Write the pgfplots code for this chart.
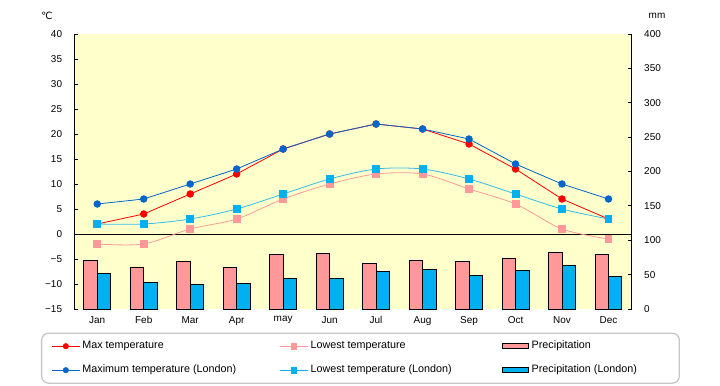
\documentclass[border=0pt]{standalone}
\usepackage{fontspec}
\setmainfont{Liberation Sans}
\newfontfamily\dejavu{DejaVu Sans}
\usepackage{pgfplots}
\pgfplotsset{compat=1.18}
\definecolor{maxred}{HTML}{FF0000}
\definecolor{maxblue}{HTML}{0066CC}
\definecolor{lowpink}{HTML}{FF9999}
\definecolor{lowblue}{HTML}{00B0F0}
\definecolor{lowblueline}{HTML}{33BBEE}
\definecolor{bg}{HTML}{FFFFCC}
\newcommand{\lbl}[2]{\makebox[#1][l]{\hspace{2.4bp}#2}}
\begin{document}
\begin{tikzpicture}[x=1bp,y=1bp]
\useasboundingbox (0,0) rectangle (720,385);
% precipitation axis (right)
\begin{axis}[
  scale only axis, width=557.7bp, height=275bp,
  at={(74bp,76bp)}, anchor=south west,
  xmin=-0.5, xmax=11.5, ymin=0, ymax=400,
  axis x line=none, axis y line*=right,
  axis background/.style={fill=bg},
  ytick={0,50,...,400},
  tick align=inside, major tick length=4bp,
  y axis line style={line width=0.8bp, black},
  ytick style={line width=0.8bp, black},
  yticklabel style={font=\fontsize{10}{12}\selectfont, xshift=9bp},
  /pgf/number format/assume math mode=true,
]
\addplot[ybar, bar width=13.4bp, bar shift=-6.7bp, fill=lowpink, draw=black, line width=0.8bp]
  coordinates {(0,71) (1,61) (2,69) (3,61) (4,80) (5,81) (6,66) (7,71) (8,69) (9,74) (10,82) (11,80)};
\addplot[ybar, bar width=13.4bp, bar shift=6.7bp, fill=lowblue, draw=black, line width=0.8bp]
  coordinates {(0,52) (1,39) (2,36) (3,37) (4,45) (5,45) (6,55) (7,58) (8,49) (9,56) (10,64) (11,48)};
\end{axis}
% temperature axis (left)
\begin{axis}[
  scale only axis, width=557.7bp, height=275bp,
  at={(74bp,76bp)}, anchor=south west,
  xmin=-0.5, xmax=11.5, ymin=-15, ymax=40,
  axis y line*=left, axis x line*=bottom,
  x axis line style={draw=none},
  y axis line style={line width=0.8bp, black},
  xtick={0,...,11},
  xticklabels={Jan,Feb,Mar,Apr,may,Jun,Jul,Aug,Sep,Oct,Nov,Dec},
  xtick style={draw=none},
  xticklabel style={font=\fontsize{10}{12}\selectfont, yshift=-4bp},
  ytick={-15,-10,...,40},
  yticklabels={−15,−10,−5,0,5,10,15,20,25,30,35,40},
  ytick style={line width=0.8bp, black},
  yticklabel style={font=\fontsize{10}{12}\selectfont, xshift=-8.4bp},
  tick align=inside, major tick length=4bp,
  legend columns=3,
  legend cell align=left,
  legend style={at={(-0.0592,-0.0855)}, anchor=north west,
    draw=black!22, line width=1.3bp, rounded corners=7bp, fill=white,
    inner xsep=10bp, inner ysep=8bp, column sep=0pt, row sep=14bp,
    font=\fontsize{10.8}{12}\selectfont,
    nodes={inner sep=0pt, text height=7.5bp, text depth=2.5bp}},
]
\addplot[black, line width=0.8bp, forget plot] coordinates {(-0.5,0) (11.5,0)};
\addplot[lowpink, line width=0.8bp, smooth, mark=square*, mark size=3.4bp, forget plot]
  coordinates {(0,-2) (1,-2) (2,1) (3,3) (4,7) (5,10) (6,12) (7,12) (8,9) (9,6) (10,1) (11,-1)};
\addplot[maxred, line width=0.8bp, mark=*, mark size=3.3bp, forget plot]
  coordinates {(0,2) (1,4) (2,8) (3,12) (4,17) (5,20) (6,22) (7,21) (8,18) (9,13) (10,7) (11,3)};
\addplot[lowblueline, line width=0.8bp, smooth, mark=square*, mark size=3.4bp, mark options={lowblue}, forget plot]
  coordinates {(0,2) (1,2) (2,3) (3,5) (4,8) (5,11) (6,13) (7,13) (8,11) (9,8) (10,5) (11,3)};
\addplot[maxblue, line width=0.8bp, mark=*, mark size=3.3bp, forget plot]
  coordinates {(0,6) (1,7) (2,10) (3,13) (4,17) (5,20) (6,22) (7,21) (8,19) (9,14) (10,10) (11,7)};
% legend entries
\pgfplotsset{
  lineleg/.style={legend image code/.code={\draw[sharp corners,mark repeat=2,mark phase=2,##1] plot coordinates {(0bp,0bp) (13.8bp,0bp) (27.6bp,0bp)};}},
  barleg/.style={legend image code/.code={\draw[sharp corners,##1] (0bp,-2.5bp) rectangle (26bp,2.5bp);}},
}
\addlegendimage{lineleg, maxred, line width=0.8bp, mark=*, mark size=2.6bp}
\addlegendentry{\lbl{199.7bp}{Max temperature}}
\addlegendimage{lineleg, lowpink, line width=0.8bp, mark=square*, mark size=2.8bp}
\addlegendentry{\lbl{194bp}{Lowest temperature}}
\addlegendimage{barleg, fill=lowpink, draw=black, line width=1.2bp}
\addlegendentry{\lbl{140bp}{Precipitation}}
\addlegendimage{lineleg, maxblue, line width=0.8bp, mark=*, mark size=2.6bp}
\addlegendentry{\lbl{199.7bp}{Maximum temperature (London)}}
\addlegendimage{lineleg, lowblue, line width=0.8bp, mark=square*, mark size=2.8bp}
\addlegendentry{\lbl{194bp}{Lowest temperature (London)}}
\addlegendimage{barleg, fill=lowblue, draw=black, line width=1.2bp}
\addlegendentry{\lbl{140bp}{Precipitation (London)}}
\end{axis}
\node[font=\dejavu\fontsize{10}{11}\selectfont] at (47,369) {℃};
\node[font=\fontsize{10}{12}\selectfont] at (657,369) {mm};
\end{tikzpicture}
\end{document}
